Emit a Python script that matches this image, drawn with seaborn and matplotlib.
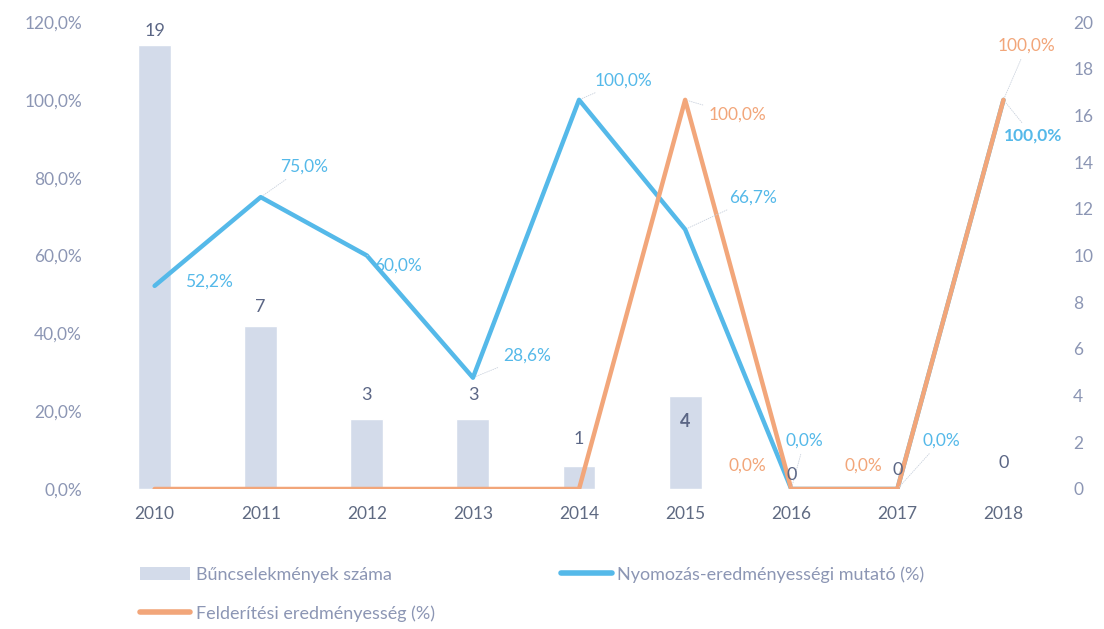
import numpy as np
import pandas as pd
import seaborn as sns
from matplotlib import pyplot as plt
from matplotlib.lines import Line2D
from matplotlib.patches import Patch

years = ["2010", "2011", "2012", "2013", "2014", "2015", "2016", "2017", "2018"]
crimes = [19, 7, 3, 3, 1, 4, 0, 0, 0]
investigation = [52.2, 75.0, 60.0, 28.6, 100.0, 66.7, 0.0, 0.0, 100.0]
detection = [0.0, 0.0, 0.0, 0.0, 0.0, 100.0, 0.0, 0.0, 100.0]

crime_label = "Bűncselekmények száma"
inv_label = "Nyomozás-eredményességi mutató (%)"
det_label = "Felderítési eredményesség (%)"

bar_color = "#d3dbea"
blue = "#55b9e9"
orange = "#f2a67a"
tick_color = "#8c96b4"
num_color = "#5b6685"

sns.set_style("white")
plt.rcParams['font.family'] = ['Lato', 'DejaVu Sans']

df = pd.DataFrame({"year": years, "crimes": crimes,
                   "inv": investigation, "det": detection})

fig = plt.figure(figsize=(11.04, 6.29), dpi=100)
ax_bar = fig.add_axes([0.092, 0.2226, 0.865, 0.7424])
ax = ax_bar.twinx()

sns.barplot(data=df, x="year", y="crimes", color=bar_color, width=0.31,
            saturation=1, ax=ax_bar)
ax_bar.set_ylim(0, 20)
ax_bar.set_yticks(range(0, 21, 2))
ax_bar.yaxis.tick_right()
ax_bar.set_xlabel("")
ax_bar.set_ylabel("")

sns.lineplot(data=df, x="year", y="inv", color=blue, linewidth=3.2, ax=ax, sort=False)
sns.lineplot(data=df, x="year", y="det", color=orange, linewidth=3.2, ax=ax, sort=False)
ax.set_ylim(0, 120)
ax.set_yticks(range(0, 121, 20))
ax.set_yticklabels([f"{v:.1f}%".replace(".", ",") for v in range(0, 121, 20)])
ax.yaxis.tick_left()
ax.set_xlabel("")
ax.set_ylabel("")
ax.set_xlim(-0.5, 8.5)
ax_bar.set_xlim(-0.5, 8.5)

for a in (ax, ax_bar):
    for s in a.spines.values():
        s.set_visible(False)
    a.tick_params(axis="both", length=0, colors=tick_color, labelsize=12.5)
ax_bar.tick_params(axis="x", colors="#5f6a82", labelsize=12.5, pad=12)
ax_bar.tick_params(axis="y", pad=12)
ax.tick_params(axis="y", pad=14)

def pct(v):
    return f"{v:.1f}%".replace(".", ",")

# label offsets in points (dx, dy, ha, bold, leader)
inv_offsets = [(22, 3, "left", False, False), (14, 22, "left", False, True),
               (5, -7, "left", False, True), (22, 16, "left", False, True),
               (11, 14, "left", False, True), (32, 23, "left", False, True),
               (-4, 35, "left", False, True), (18, 35, "left", False, True),
               (0, -26, "left", True, True)]
for i, (v, (dx, dy, ha, bold, lead)) in enumerate(zip(investigation, inv_offsets)):
    ax.annotate(pct(v), (i, v), xytext=(dx, dy), textcoords="offset points",
                ha=ha, va="center", color=blue, fontsize=12.5,
                fontweight="bold" if bold else "normal",
                arrowprops=dict(arrowstyle="-", color="#c8d0dc", lw=0.6,
                                linestyle=":") if lead else None)

det_offsets = {5: (17, -11, "left", True), 6: (-18, 17, "right", False),
               7: (-11, 17, "right", False), 8: (-4, 39, "left", True)}
for i, (dx, dy, ha, lead) in det_offsets.items():
    ax.annotate(pct(detection[i]), (i, detection[i]), xytext=(dx, dy),
                textcoords="offset points", ha=ha, va="center",
                color=orange, fontsize=12.5,
                arrowprops=dict(arrowstyle="-", color="#c8d0dc", lw=0.6,
                                linestyle=":") if lead else None)

bar_offsets = [(0, 10), (0, 13), (0, 17), (0, 17), (0, 19), (0, -19), (0, 10), (0, 14), (0, 19)]
for i, (v, (dx, dy)) in enumerate(zip(crimes, bar_offsets)):
    ax.annotate(str(v), (i, v * 6), xytext=(dx, dy), textcoords="offset points",
                ha="center", va="center", color=num_color, fontsize=13,
                fontweight="bold" if i == 5 else "normal")

handles = [Patch(facecolor=bar_color, edgecolor="none"),
           Line2D([], [], color=orange, lw=4),
           Line2D([], [], color=blue, lw=4)]
fig.legend(handles, [crime_label, det_label, inv_label], loc="upper left",
           bbox_to_anchor=(0.112, 0.126), ncol=2, frameon=False, fontsize=13,
           labelcolor=tick_color, handlelength=2.8, handletextpad=0.3,
           columnspacing=7.0, labelspacing=1.25)

fig.savefig("out.png", dpi=100)
